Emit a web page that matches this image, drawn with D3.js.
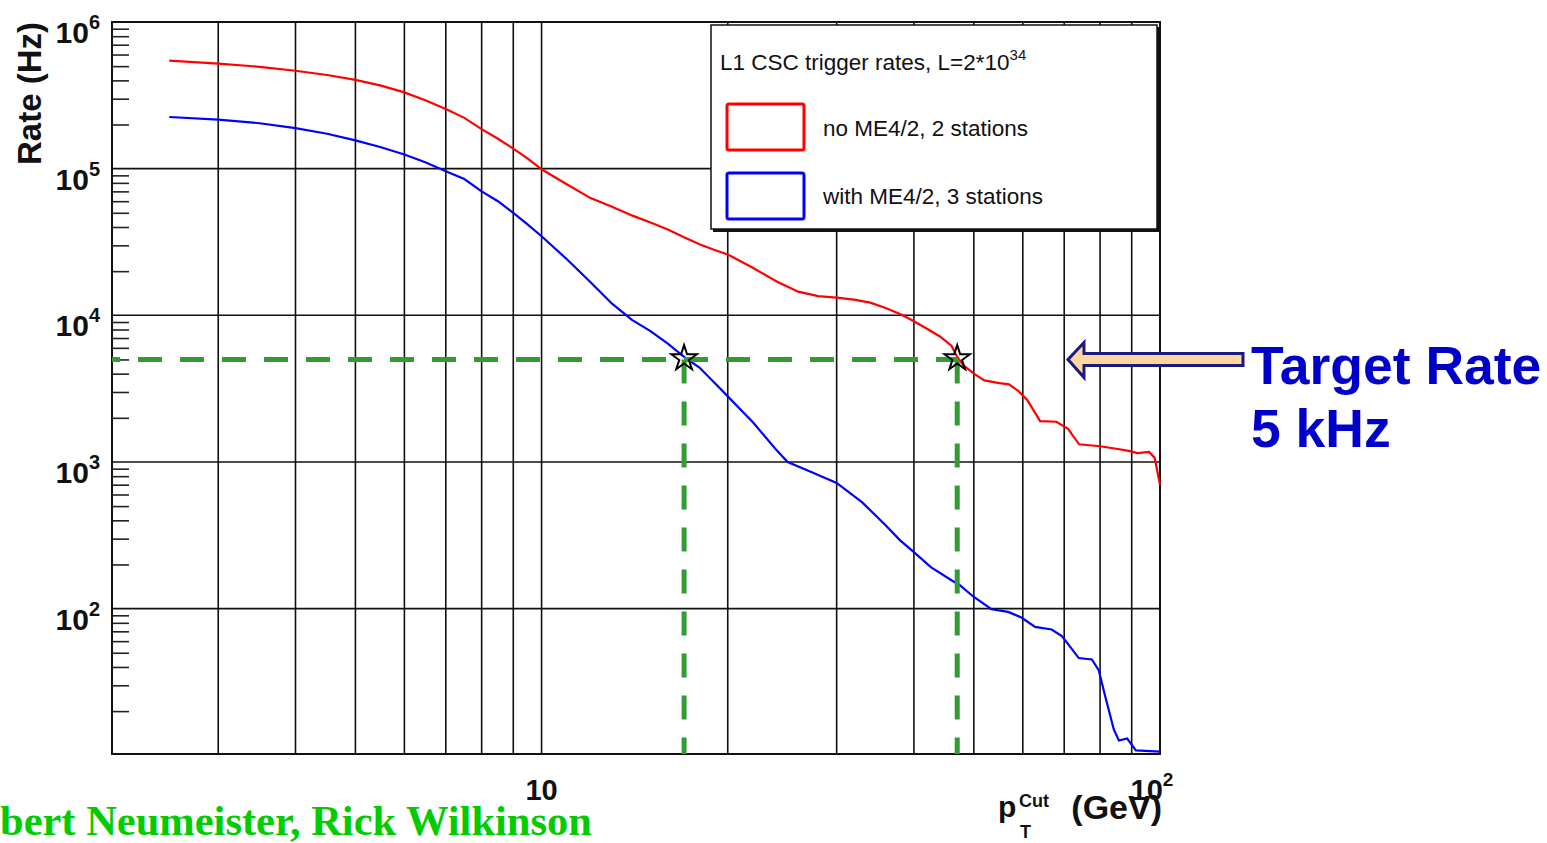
<!DOCTYPE html>
<html>
<head>
<meta charset="utf-8">
<script src="https://cdn.jsdelivr.net/npm/d3@7"></script>
<style>
  html, body { margin: 0; padding: 0; background: #fff; }
  svg { display: block; }
  text { font-family: "Liberation Sans", Arial, sans-serif; }
</style>
</head>
<body>
<div id="chart"></div>
<script>
// red: no ME4/2, 2 stations
const redPt = [2.5, 3, 3.5, 4, 4.5, 5, 5.5, 6, 6.5, 7, 7.5, 8, 8.5, 9, 9.5, 10, 11, 12, 13, 14, 15, 16, 17, 18, 19, 20,
  22, 24, 26, 28, 30, 32, 34, 36, 38, 40, 42, 44, 46, 47, 48, 50, 52, 55, 57, 59, 61, 64, 68, 71, 74, 80, 85, 89, 92, 96, 98, 100];
const redRate = [545e3, 520e3, 495e3, 465e3, 435e3, 403e3, 368e3, 331e3, 292e3, 255e3, 222e3, 186e3, 160e3, 137e3, 117e3, 99e3,
  78e3, 63e3, 55e3, 48e3, 43e3, 38.5e3, 34e3, 30.5e3, 28e3, 26e3,
  21e3, 17e3, 14.5e3, 13.5e3, 13.2e3, 12.8e3, 12.2e3, 11.2e3, 10.2e3, 9.1e3, 8.1e3, 7.2e3, 6.2e3, 5.2e3, 4.6e3, 4.0e3, 3.6e3,
  3.45e3, 3.38e3, 3.05e3, 2.65e3, 1.9e3, 1.88e3, 1.68e3, 1.32e3, 1.28e3, 1.23e3, 1.19e3, 1.15e3, 1.17e3, 1.07e3, 700];

// blue: with ME4/2, 3 stations
const bluePt = [2.5, 3, 3.5, 4, 4.5, 5, 5.5, 6, 6.5, 7, 7.5, 8, 8.5, 9, 9.5, 10, 11, 12, 13, 14, 15, 16, 17, 18, 19, 20,
  22, 24, 25, 27, 30, 33, 36, 38, 40, 42.6, 46, 47.4, 50, 53.4, 56.8, 59.7, 62.8, 66.8, 69.4, 73.9, 77.6, 79.6, 81.6, 84.2,
  85.8, 88.5, 91.4, 100];
const blueRate = [225e3, 216e3, 204e3, 189e3, 173e3, 156e3, 140e3, 125e3, 110e3, 96e3, 85e3, 70e3, 60e3, 50e3, 41.5e3, 34.6e3,
  24e3, 16.8e3, 12e3, 9.3e3, 7.8e3, 6.4e3, 5.2e3, 4.4e3, 3.5e3, 2.8e3,
  1.85e3, 1.2e3, 1.0e3, 870, 720, 530, 370, 292, 243, 192, 156, 145, 120, 99, 95, 87, 75, 72, 65, 46, 45, 38, 25, 15,
  12.6, 13, 10.8, 10.6];

const targetRate = 5000;
const targetPt = [17, 47];

const xGrid = [3, 4, 5, 6, 7, 8, 9, 10, 20, 30, 40, 50, 60, 70, 80, 90];
const yGrid = [1e2, 1e3, 1e4, 1e5];
const yMajor = [2, 3, 4, 5, 6];
const xMajor = [{ v: 10, base: "10", exp: "" }, { v: 100, base: "10", exp: "2" }];

const legendTitle = "L1 CSC trigger rates, L=2*10";
const legendTitleExp = "34";
const seriesNames = ["no ME4/2, 2 stations", "with ME4/2, 3 stations"];
const seriesColors = ["#ff0000", "#0000ff"];

const W = 1547, H = 843;
const svg = d3.select("#chart").append("svg").attr("width", W).attr("height", H);

const x = d3.scaleLog().domain([2.02, 100]).range([112, 1160]);
const y = d3.scaleLog().domain([10.2, 1e6]).range([754, 22]);

// grid
svg.append("g").selectAll("line").data(xGrid).enter().append("line")
  .attr("x1", d => x(d)).attr("x2", d => x(d))
  .attr("y1", y.range()[0]).attr("y2", y.range()[1])
  .style("stroke", "#111").style("stroke-width", 1.6);
svg.append("g").selectAll("line").data(yGrid).enter().append("line")
  .attr("x1", x.range()[0]).attr("x2", x.range()[1])
  .attr("y1", d => y(d)).attr("y2", d => y(d))
  .style("stroke", "#111").style("stroke-width", 1.6);

// y minor ticks
const minor = [];
for (let e = 1; e <= 5; e++) for (let k = 2; k <= 9; k++) {
  const v = k * Math.pow(10, e);
  if (v > y.domain()[0]) minor.push(v);
}
svg.append("g").attr("transform", `translate(${x.range()[0]},0)`)
  .call(d3.axisRight(y).tickValues(minor).tickSize(17).tickFormat(""))
  .call(g => g.select(".domain").remove())
  .selectAll("line").style("stroke", "#222").style("stroke-width", 1.6);

// frame
svg.append("rect")
  .attr("x", x.range()[0]).attr("y", y.range()[1])
  .attr("width", x.range()[1] - x.range()[0]).attr("height", y.range()[0] - y.range()[1])
  .style("fill", "none").style("stroke", "#111").style("stroke-width", 2);

// y labels
const yl = svg.append("g").selectAll("text").data(yMajor).enter().append("text")
  .attr("x", 100).attr("y", d => y(Math.pow(10, d)) + 21)
  .attr("text-anchor", "end")
  .style("font-weight", "bold").style("font-size", "30px").style("fill", "#111");
yl.append("tspan").text("10");
yl.append("tspan").attr("dy", -14).style("font-size", "20px").text(d => d);

// x labels
const xl = svg.append("g").selectAll("text").data(xMajor).enter().append("text")
  .attr("x", d => x(d.v) + (d.exp ? -8 : 0)).attr("y", 800)
  .attr("text-anchor", "middle")
  .style("font-weight", "bold").style("font-size", "29px").style("fill", "#111");
xl.append("tspan").text(d => d.base);
xl.append("tspan").attr("dy", -14).style("font-size", "19px").text(d => d.exp);

// axis titles
svg.append("text")
  .attr("transform", "translate(41,22) rotate(-90)")
  .attr("text-anchor", "end")
  .style("font-weight", "bold").style("font-size", "33px").style("fill", "#111")
  .text("Rate (Hz)");
const xt = svg.append("g").style("font-weight", "bold").style("fill", "#111");
xt.append("text").attr("x", 998).attr("y", 817).style("font-size", "30px").text("p");
xt.append("text").attr("x", 1019).attr("y", 807).style("font-size", "18px").text("Cut");
xt.append("text").attr("x", 1020).attr("y", 838).style("font-size", "18px").text("T");
xt.append("text").attr("x", 1162).attr("y", 819).attr("text-anchor", "end").style("font-size", "34px").text("(GeV)");

// curves
const line = d3.line().x(d => x(d[0])).y(d => y(d[1]));
const series = [d3.zip(redPt, redRate), d3.zip(bluePt, blueRate)];
svg.append("g").selectAll("path").data(series).enter().append("path")
  .attr("d", line)
  .style("fill", "none")
  .style("stroke", (d, i) => seriesColors[i])
  .style("stroke-width", 2.2);

// target rate dashed lines
const green = "#349a34";
svg.append("line")
  .attr("x1", x.range()[0]).attr("x2", x(targetPt[1]))
  .attr("y1", y(targetRate)).attr("y2", y(targetRate))
  .style("stroke", green).style("stroke-width", 5)
  .style("stroke-dasharray", "24,18").style("stroke-dashoffset", 16);
svg.append("g").selectAll("line").data(targetPt).enter().append("line")
  .attr("x1", d => x(d)).attr("x2", d => x(d))
  .attr("y1", y(targetRate)).attr("y2", y.range()[0])
  .style("stroke", green).style("stroke-width", 5)
  .style("stroke-dasharray", "24,18");

// stars
svg.append("g").selectAll("path").data(targetPt).enter().append("path")
  .attr("d", d3.symbol(d3.symbolStar).size(200))
  .attr("transform", d => `translate(${x(d)},${y(targetRate) - 1})`)
  .style("fill", "none").style("stroke", "#000").style("stroke-width", 2);

// legend
const lg = svg.append("g");
lg.append("rect").attr("x", 713).attr("y", 27).attr("width", 447).attr("height", 205).style("fill", "#111");
lg.append("rect").attr("x", 711).attr("y", 25).attr("width", 446).attr("height", 204)
  .style("fill", "#fff").style("stroke", "#111").style("stroke-width", 1.5);
const lt = lg.append("text").attr("x", 720).attr("y", 70).style("font-size", "22.5px").style("fill", "#111");
lt.append("tspan").text(legendTitle);
lt.append("tspan").attr("dy", -10).style("font-size", "15px").text(legendTitleExp);
seriesNames.forEach((name, i) => {
  lg.append("rect").attr("x", 727).attr("y", 104 + i * 69).attr("width", 77).attr("height", 46).attr("rx", 2)
    .style("fill", "none").style("stroke", seriesColors[i]).style("stroke-width", 3);
  lg.append("text").attr("x", 823).attr("y", 136 + i * 68).style("font-size", "22.5px").style("fill", "#111").text(name);
});

// arrow + annotation
const ay = y(targetRate);
const arrowPts = [[1068, ay], [1084, ay - 17], [1084, ay - 6], [1243, ay - 6], [1243, ay + 6], [1084, ay + 6], [1084, ay + 18]];
svg.append("polygon")
  .attr("points", arrowPts.map(p => p.join(",")).join(" "))
  .style("fill", "#ffd79e").style("stroke", "#1a1a80").style("stroke-width", 3).style("stroke-linejoin", "miter");
svg.append("text").attr("x", 1251).attr("y", 384)
  .style("font-weight", "bold").style("font-size", "53.5px").style("fill", "#0000c8").text("Target Rate");
svg.append("text").attr("x", 1251).attr("y", 447)
  .style("font-weight", "bold").style("font-size", "53.5px").style("fill", "#0000c8").text("5 kHz");

svg.append("text").attr("x", 0).attr("y", 835)
  .style("font-family", "'Liberation Serif', 'Times New Roman', serif")
  .style("font-weight", "bold").style("font-size", "42.5px").style("fill", "#00cc00")
  .text("bert Neumeister, Rick Wilkinson");
</script>
</body>
</html>
